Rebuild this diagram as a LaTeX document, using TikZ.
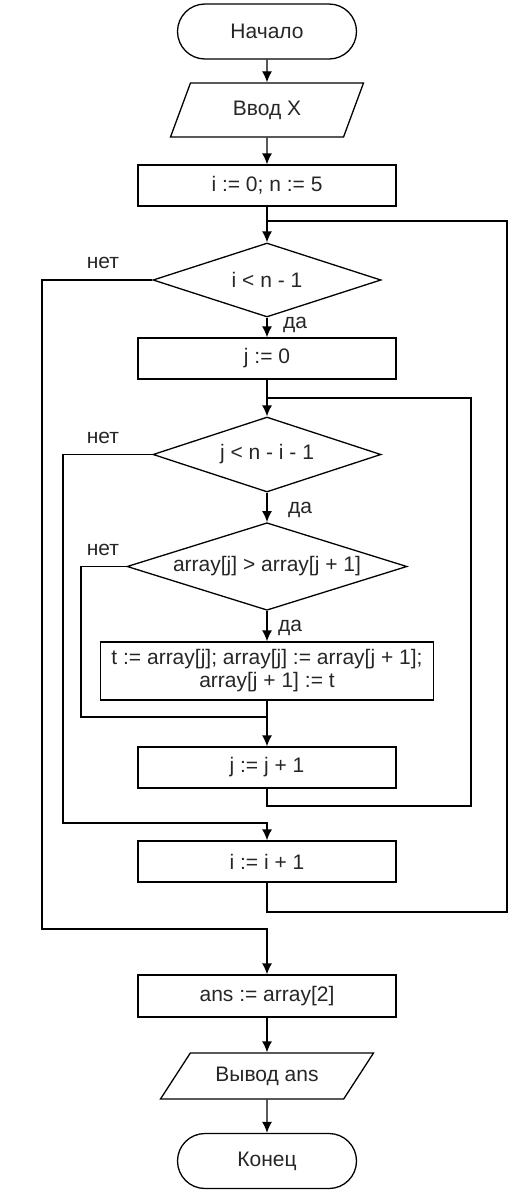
\documentclass[tikz,border=0pt]{standalone}
\usepackage{fontspec}
\setmainfont{Liberation Sans}
\usetikzlibrary{arrows.meta, shapes.geometric}
\tikzset{>={Latex[length=5.5pt,width=5pt]}}
\tikzset{
  term/.style={draw, rounded corners=13.75pt, minimum width=89.5pt, minimum height=27.5pt},
  io/.style={draw, trapezium, trapezium stretches body},
  proc/.style={draw, minimum width=129pt, minimum height=20.5pt},
  cond/.style={draw, diamond, aspect=3, inner sep=1pt, minimum width=114pt, minimum height=37pt},
  lbl/.style={inner sep=0pt}
}

\begin{document}
\begin{tikzpicture}[x=0.5pt, y=-0.5pt, line width=0.65pt,
    every node/.style={font=\fontsize{10.5}{11.5}\selectfont, text=black!85}]
    \useasboundingbox (0,0) rectangle (519,1200);
    \begin{scope}
      \node[term] (start) at (267, 31.5) {Начало};
      \node[io, trapezium left angle=58, trapezium right angle=122,
            minimum width=96.5pt, minimum height=27pt] (input) at (267, 110) {Ввод X};
      \node[proc] (init) at (267, 185.5) {i := 0; n := 5};
      \node[cond] (c1) at (267, 280) {i < n - 1};
      \node[proc] (jinit) at (267, 358.5) {j := 0};
      \node[cond, minimum height=37.5pt] (c2) at (267, 454.5) {j < n - i - 1};
      \node[cond, minimum width=140pt, minimum height=43.5pt] (c3) at (267, 566.5) {array[j] > array[j + 1]};
      \node[proc, minimum width=166.5pt, minimum height=29pt, align=center] (swap) at (267, 671)
        {t := array[j]; array[j] := array[j + 1];\\ array[j + 1] := t};
      \node[proc] (jinc) at (267, 767.5) {j := j + 1};
      \node[proc] (iinc) at (267, 861.5) {i := i + 1};
      \node[proc, minimum height=21pt] (ans) at (267, 996) {ans := array[2]};
      \node[io, trapezium left angle=47, trapezium right angle=133,
            minimum width=106.5pt, minimum height=23pt] (output) at (267, 1076) {Вывод ans};
      \node[term] (stop) at (267, 1161) {Конец};
    \end{scope}
    \begin{scope}[every node/.append style={lbl}]
      \node (no1) at (103, 263) {нет};
      \node (yes1) at (295, 325) {да};
      \node (no2) at (103, 438) {нет};
      \node (yes2) at (300, 510) {да};
      \node (no3) at (103, 550) {нет};
      \node (yes3) at (290, 628) {да};
    \end{scope}
    \coordinate (loopi) at (267, 221);
    \coordinate (ri) at (507, 912);
    \coordinate (loopj) at (267, 398);
    \coordinate (rj) at (471, 806);
    \coordinate (n1) at (42, 929);
    \coordinate (n2) at (63, 823);
    \coordinate (n3) at (81, 717);
    \coordinate (m3) at (267, 717);
    \begin{scope}[every edge/.style={draw=black, line width=0.65pt}]
      \path [->] (start) edge (input);
      \path [->] (input) edge (init);
      \path [->] (init) edge (c1);
      \path [->] (c1) edge (jinit);
      \path [->] (jinit) edge (c2);
      \path [->] (c2) edge (c3);
      \path [->] (c3) edge (swap);
      \path [->] (swap) edge (jinc);
      \path [->] (ans) edge (output);
      \path [->] (output) edge (stop);
      \draw (c3.west) -| (n3) -- (m3);
      \draw (jinc.south) |- (rj) |- (loopj);
      \draw [->] (c2.west) -| (n2) -| (iinc.north);
      \draw (iinc.south) |- (ri) |- (loopi);
      \draw [->] (c1.west) -| (n1) -| (ans.north);
    \end{scope}
  \end{tikzpicture}
\end{document}
